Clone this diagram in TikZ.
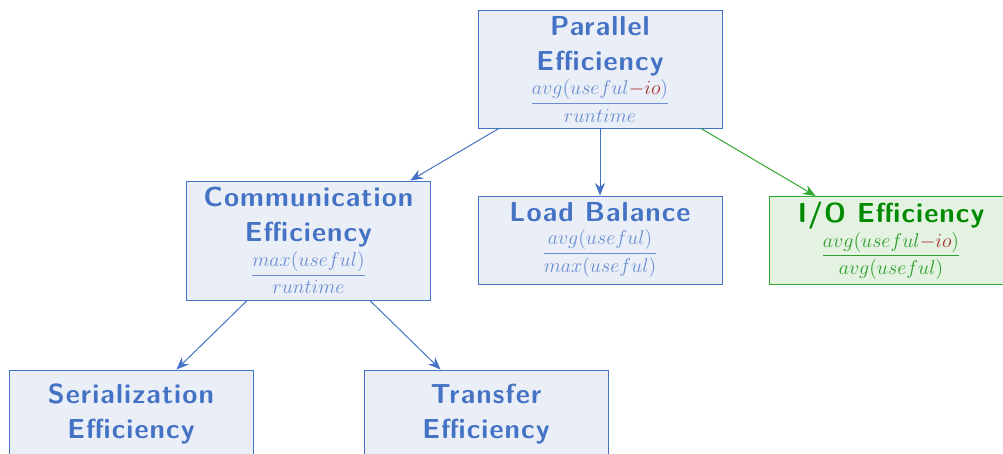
\documentclass[tikz,border=0pt]{standalone}
\usepackage{fontspec}
\usetikzlibrary{arrows.meta}
\newfontfamily\ttlfont{Latin Modern Sans}[LetterSpace=4]
\definecolor{mblue}{HTML}{4472C4}
\definecolor{fblue}{HTML}{EAEEF7}
\definecolor{tblue}{HTML}{4472C4}
\definecolor{lblue}{HTML}{6A8ED3}
\definecolor{mgreen}{HTML}{2EA82E}
\definecolor{fgreen}{HTML}{E4F2E2}
\definecolor{tgreen}{HTML}{008A00}
\definecolor{lgreen}{HTML}{2E9E2E}
\definecolor{ared}{HTML}{A52A2A}
\newcommand{\ttl}{\ttlfont\bfseries\fontsize{16.5}{21}\selectfont}
\newcommand{\frm}{\fontsize{11.5}{13}\selectfont}
\newcommand{\dfr}[2]{\displaystyle\frac{#1}{#2}}
\tikzset{
  box/.style={draw=mblue, fill=fblue, line width=0.6pt, text=tblue,
    minimum width=244*0.6pt, inner sep=0pt, align=center, font=\ttl},
  gbox/.style={box, draw=mgreen, fill=fgreen, text=tgreen},
  arr/.style={-{Stealth[length=7.5pt,width=6pt]}, mblue, line width=0.6pt},
  garr/.style={arr, mgreen},
}
\begin{document}
\begin{tikzpicture}[x=0.6pt,y=-0.6pt]
\useasboundingbox (0,0) rectangle (1003,453);
\clip (0,0) rectangle (1003,453);
\node[box, minimum height=118*0.6pt] (par) at (600,69)
  {Parallel\\Efficiency\\[2pt]{\frm\color{lblue}$\dfr{avg(useful{\color{ared}-io})}{runtime}$}};
\node[box, minimum height=119*0.6pt] (com) at (308.5,240.5)
  {Communication\\Efficiency\\[2pt]{\frm\color{lblue}$\dfr{max(useful)}{runtime}$}};
\node[box, minimum height=88*0.6pt] (lb) at (600,240)
  {Load Balance\\[1pt]{\frm\color{lblue}$\dfr{avg(useful)}{max(useful)}$}};
\node[gbox, minimum height=88*0.6pt] (io) at (891,240.5)
  {I/O Efficiency\\[1pt]{\frm\color{lgreen}$\dfr{avg(useful{\color{ared}-io})}{avg(useful)}$}};
\node[box, minimum height=88*0.6pt] (ser) at (131,414)
  {Serialization\\Efficiency};
\node[box, minimum height=88*0.6pt] (tra) at (486,414)
  {Transfer\\Efficiency};
\draw[arr] (par) -- (com);
\draw[arr] (par) -- (lb);
\draw[garr] (par) -- (io);
\draw[arr] (com) -- (ser);
\draw[arr] (com) -- (tra);
\end{tikzpicture}
\end{document}
